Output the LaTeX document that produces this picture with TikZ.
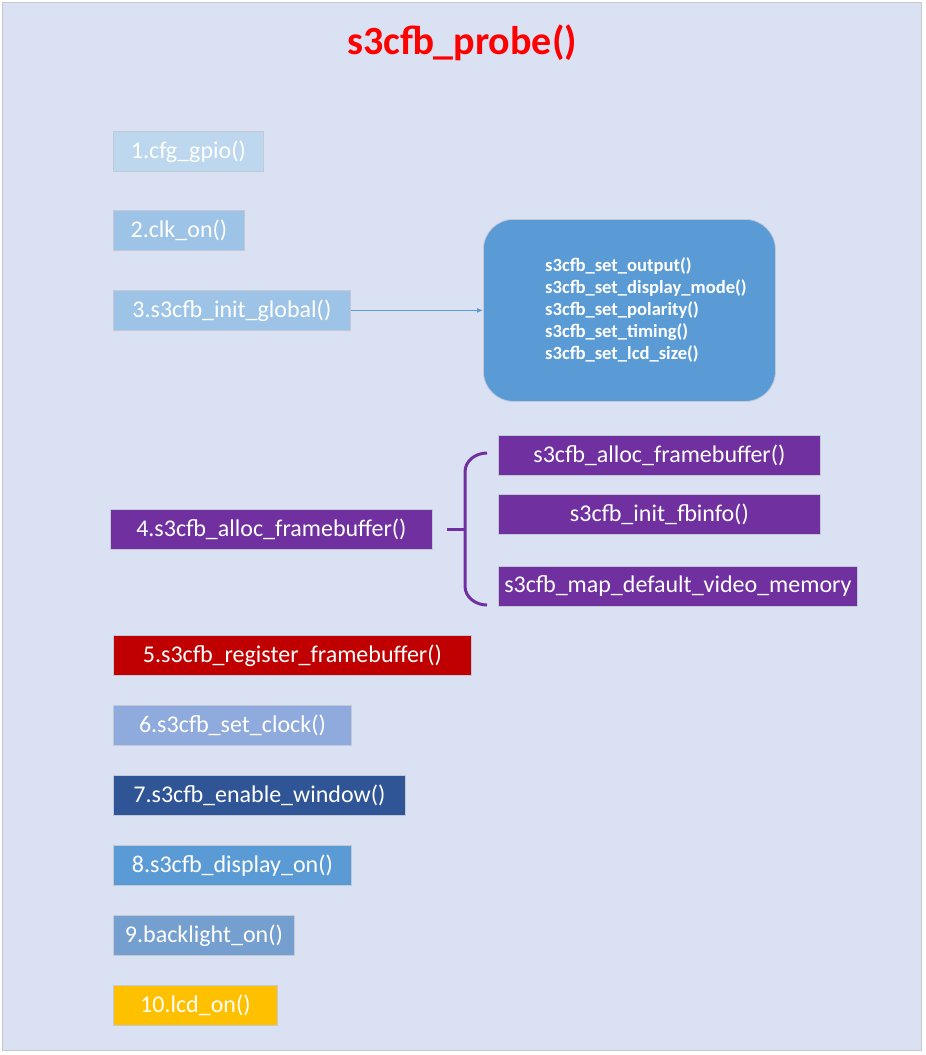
\documentclass[tikz,border=0pt]{standalone}
\usepackage{fontspec}
\setmainfont{Carlito}
\usetikzlibrary{arrows.meta}
\definecolor{bgfill}{RGB}{218,225,243}
\definecolor{bgline}{RGB}{200,200,205}
\definecolor{cA}{RGB}{189,215,238}
\definecolor{cB}{RGB}{157,195,230}
\definecolor{cBlue}{RGB}{91,155,213}
\definecolor{cPurple}{RGB}{112,48,160}
\definecolor{cRed}{RGB}{192,0,0}
\definecolor{cSix}{RGB}{143,170,220}
\definecolor{cSeven}{RGB}{47,85,151}
\definecolor{cNine}{RGB}{116,159,207}
\definecolor{cTen}{RGB}{255,192,0}
\definecolor{boxline}{RGB}{195,200,215}
\tikzset{
  fbox/.style={draw=boxline, line width=0.8pt, anchor=north west, minimum height=40pt,
    inner sep=0pt, text=white, font=\fontsize{24}{26}\selectfont},
}
\begin{document}
\begin{tikzpicture}[x=1pt,y=-1pt]
\useasboundingbox (0,0) rectangle (926,1055);
\fill[bgfill] (2,2) rectangle (921,1050);
\draw[bgline, line width=1pt] (2,2) rectangle (921,1050);
\node (title) at (462,43) {\fontsize{40}{44}\selectfont\bfseries\color{red}s3cfb\_probe()};

\node[fbox, fill=cA, minimum width=150pt] (b1) at (113,131) {1.cfg\_gpio()};
\node[fbox, fill=cB, minimum width=131pt] (b2) at (113,210) {2.clk\_on()};
\node[fbox, fill=cB, minimum width=237pt] (b3) at (113,290) {3.s3cfb\_init\_global()};

\node[fill=cBlue, draw=boxline, line width=0.8pt, rounded corners=30pt, anchor=north west,
  minimum width=292pt, minimum height=182pt] (rb) at (483,219) {};
\node[anchor=west, text=white, align=left, inner sep=0pt,
  font=\fontsize{18.6}{22}\selectfont\bfseries] (rbt) at (545,310)
  {s3cfb\_set\_output()\\s3cfb\_set\_display\_mode()\\s3cfb\_set\_polarity()\\s3cfb\_set\_timing()\\s3cfb\_set\_lcd\_size()};
\draw[cBlue, line width=1pt, -{Latex[length=6pt,width=5pt]}] (b3.east) -- (rb.west);

\node[fbox, fill=cPurple, minimum width=322pt] (b4) at (110,509) {4.s3cfb\_alloc\_framebuffer()};
\node[fbox, fill=cPurple, minimum width=322pt] (s1) at (498,435) {s3cfb\_alloc\_framebuffer()};
\node[fbox, fill=cPurple, minimum width=322pt] (s2) at (498,494) {s3cfb\_init\_fbinfo()};
\node[fbox, fill=cPurple, minimum width=359pt] (s3) at (498,566) {s3cfb\_map\_default\_video\_memory};
\coordinate (bt) at (487,453);
\coordinate (bb) at (487,605);
\coordinate (bm) at (465,529);
\draw[cPurple, line width=3pt] (bt) to[out=180,in=90] (465,472) -- (465,586) to[out=-90,in=180] (bb);
\draw[cPurple, line width=3pt] (447,529) -- (bm);

\node[fbox, fill=cRed, minimum width=358pt] (b5) at (113,635) {5.s3cfb\_register\_framebuffer()};
\node[fbox, fill=cSix, minimum width=238pt] (b6) at (113,705) {6.s3cfb\_set\_clock()};
\node[fbox, fill=cSeven, minimum width=292pt] (b7) at (113,775) {7.s3cfb\_enable\_window()};
\node[fbox, fill=cBlue, minimum width=238pt] (b8) at (113,845) {8.s3cfb\_display\_on()};
\node[fbox, fill=cNine, minimum width=181pt] (b9) at (113,915) {9.backlight\_on()};
\node[fbox, fill=cTen, minimum width=164pt] (b10) at (113,985) {10.lcd\_on()};
\end{tikzpicture}
\end{document}
